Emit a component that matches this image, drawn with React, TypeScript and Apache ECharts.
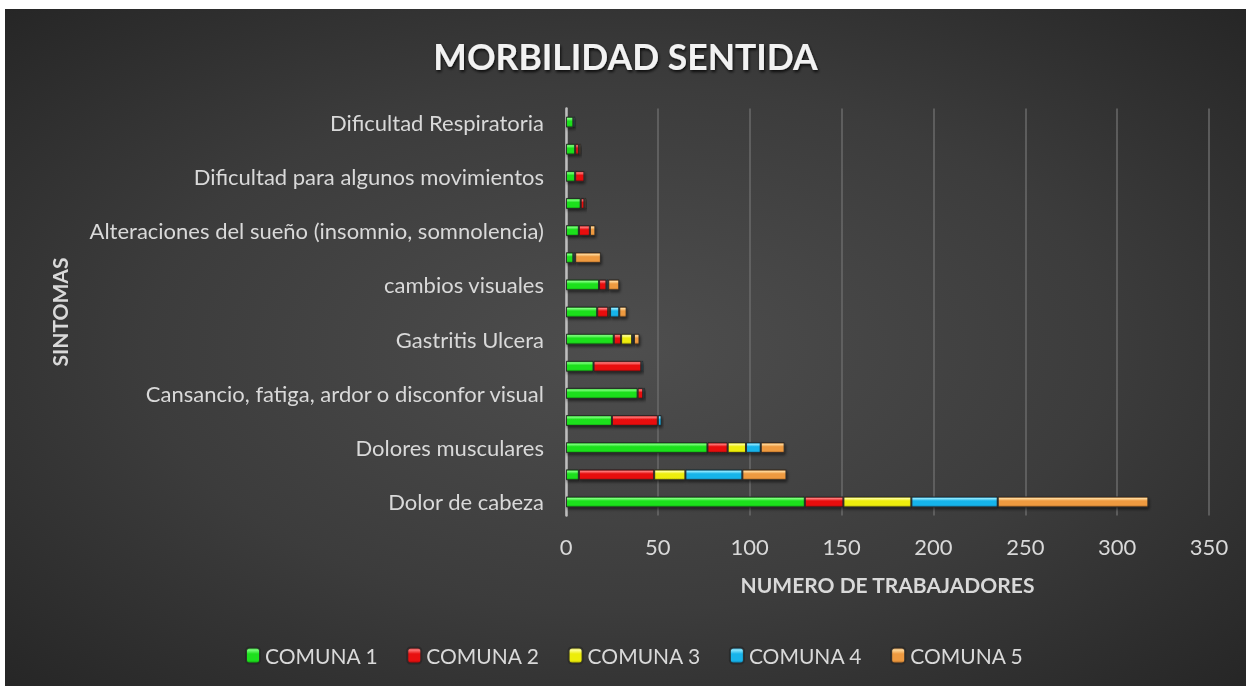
import React, { useEffect, useRef } from "react";
import * as echarts from "echarts";

const categories = [
  "Dolor de cabeza",
  "Dolor de espalda",
  "Dolores musculares",
  "Estrés",
  "Cansancio, fatiga, ardor o disconfor visual",
  "Dolor de cuello",
  "Gastritis Ulcera",
  "Irritabilidad",
  "cambios visuales",
  "Alergias",
  "Alteraciones del sueño (insomnio, somnolencia)",
  "Mareos",
  "Dificultad para algunos movimientos",
  "Hormigueo",
  "Dificultad Respiratoria",
];

const comuna1 = [130, 7, 77, 25, 39, 15, 26, 17, 18, 4, 7, 8, 5, 5, 4];
const comuna2 = [21, 41, 11, 25, 3, 26, 4, 6, 4, 0, 6, 2, 5, 2, 0];
const comuna3 = [37, 17, 10, 0, 0, 0, 6, 1, 0, 0, 0, 0, 0, 0, 0];
const comuna4 = [47, 31, 8, 2, 1, 1, 1, 5, 1, 1, 0, 0, 0, 0, 1];
const comuna5 = [82, 24, 13, 0, 0, 0, 3, 4, 6, 14, 3, 1, 0, 1, 0];

const seriesNames = ["COMUNA 1", "COMUNA 2", "COMUNA 3", "COMUNA 4", "COMUNA 5"];
const seriesData = [comuna1, comuna2, comuna3, comuna4, comuna5];
// [dark edge, light highlight, base]
const palettes = [
  ["#0a9e0a", "#7dff7d", "#1ee01e"],
  ["#9e0606", "#ff7a7a", "#e81010"],
  ["#a8a800", "#ffff9a", "#eded0a"],
  ["#0a78a8", "#8de8ff", "#18b4ea"],
  ["#a86420", "#ffd89a", "#ee9a40"],
];

const xTicks = { min: 0, max: 350, interval: 50 };

export default function App() {
  const ref = useRef<HTMLDivElement>(null);
  useEffect(() => {
    if (!ref.current) return;
    const chart = echarts.init(ref.current, null, { renderer: "svg" });
    const font = "Lato";
    const series = seriesNames.map((name, i) => {
      const [dark, light, base] = palettes[i];
      return {
        name,
        type: "bar",
        stack: "total",
        barWidth: 11,
        data: seriesData[i].map((v) => (v === 0 ? null : v)),
        itemStyle: {
          color: new echarts.graphic.LinearGradient(0, 0, 0, 1, [
            { offset: 0, color: dark },
            { offset: 0.15, color: light },
            { offset: 0.4, color: base },
            { offset: 0.8, color: base },
            { offset: 1, color: dark },
          ]),
          borderColor: "rgba(40,40,40,0.9)",
          borderWidth: 1,
          shadowColor: "rgba(0,0,0,0.55)",
          shadowBlur: 3,
          shadowOffsetX: 1,
          shadowOffsetY: 2,
        },
      };
    });
    chart.setOption({
      animation: false,
      backgroundColor: "transparent",
      title: {
        text: "MORBILIDAD SENTIDA",
        left: "center",
        top: 24,
        textStyle: {
          fontFamily: font,
          fontSize: 35.5,
          fontWeight: "bold",
          color: "#f2f2f2",
          textShadowColor: "rgba(0,0,0,0.8)",
          textShadowBlur: 3,
          textShadowOffsetX: 1,
          textShadowOffsetY: 2,
        },
      },
      legend: {
        bottom: 15,
        left: 235,
        itemWidth: 14,
        itemHeight: 16,
        itemGap: 28,
        textStyle: { fontFamily: font, fontSize: 21, color: "#d9d9d9" },
        data: seriesNames,
      },
      grid: { left: 561, right: 37, top: 99.5, bottom: 170.5 },
      xAxis: {
        type: "value",
        min: xTicks.min,
        max: xTicks.max,
        interval: xTicks.interval,
        name: "NUMERO DE TRABAJADORES",
        nameLocation: "middle",
        nameGap: 58,
        nameTextStyle: { fontFamily: font, fontSize: 21, fontWeight: "bold", color: "#d9d9d9" },
        axisLine: { show: false },
        axisTick: { show: false },
        axisLabel: { fontFamily: font, fontSize: 22, color: "#d9d9d9", margin: 20 },
        splitLine: { show: true, lineStyle: { color: "#6a6a6a", width: 1.5 } },
      },
      yAxis: {
        type: "category",
        data: categories,
        name: "SINTOMAS",
        nameLocation: "middle",
        nameRotate: 90,
        nameGap: 496,
        nameTextStyle: { fontFamily: font, fontSize: 21, fontWeight: "bold", color: "#d9d9d9" },
        axisLine: { show: true, lineStyle: { color: "#bfbfbf", width: 2.5 } },
        axisTick: { show: false },
        axisLabel: { interval: 1, fontFamily: font, fontSize: 22, color: "#d9d9d9", margin: 22 },
        splitLine: { show: false },
      },
      series,
    });
    return () => chart.dispose();
  }, []);
  return (
    <div
      style={{
        position: "fixed",
        left: 5,
        top: 9,
        width: 1241,
        height: 677,
        background: "radial-gradient(ellipse at 50% 50%, #4e4e4e 0%, #3c3c3c 55%, #262626 100%)",
      }}
    >
      <div ref={ref} style={{ width: 1241, height: 677 }} />
    </div>
  );
}
